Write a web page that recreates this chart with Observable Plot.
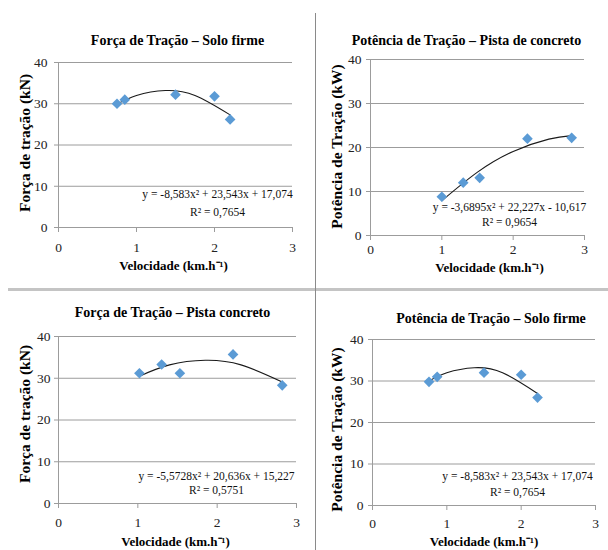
<!DOCTYPE html>
<html><head><meta charset="utf-8">
<script src="https://cdn.jsdelivr.net/npm/d3@7"></script>
<script src="https://cdn.jsdelivr.net/npm/@observablehq/plot@0.6"></script>
<style>
body{margin:0;background:#fff;}
#wrap{position:relative;width:608px;height:550px;overflow:hidden;background:#fff;}
.panel{position:absolute;}
.hdiv{position:absolute;left:8px;top:288px;width:600px;height:3px;background:#c4c4c4;}
.vdiv{position:absolute;left:315px;top:13px;width:1px;height:537px;background:#8a8a8a;}
</style></head><body><div id="wrap"></div>
<script>
const xTicks = [0, 1, 2, 3];
const yTicks = [0, 10, 20, 30, 40];

// Panel 1: Força de Tração – Solo firme
const p1Vel = [0.75, 0.85, 1.5, 2.0, 2.2];
const p1Val = [30.0, 31.0, 32.2, 31.8, 26.2];
const p1TrendX = [0.75, 1.0, 1.37, 1.75, 2.2];
const p1TrendY = [29.9, 32.0, 33.2, 32.0, 27.3];
// Panel 2: Potência de Tração – Pista de concreto
const p2Vel = [1.0, 1.3, 1.53, 2.2, 2.82];
const p2Val = [8.8, 12.0, 13.1, 22.0, 22.2];
const p2TrendX = [1.0, 1.5, 2.0, 2.5, 2.82];
const p2TrendY = [7.9, 14.4, 19.1, 21.9, 22.7];
// Panel 3: Força de Tração – Pista concreto
const p3Vel = [1.02, 1.3, 1.53, 2.2, 2.82];
const p3Val = [31.2, 33.3, 31.2, 35.7, 28.3];
const p3TrendX = [1.02, 1.4, 1.85, 2.3, 2.82];
const p3TrendY = [30.5, 33.2, 34.3, 33.2, 29.1];
// Panel 4: Potência de Tração – Solo firme
const p4Vel = [0.76, 0.87, 1.5, 2.0, 2.22];
const p4Val = [29.8, 31.0, 32.0, 31.5, 26.0];
const p4TrendX = [0.76, 1.0, 1.37, 1.75, 2.22];
const p4TrendY = [30.0, 32.0, 33.2, 32.0, 27.0];

const titles = ["Força de Tração – Solo firme", "Potência de Tração – Pista de concreto",
                "Força de Tração – Pista concreto", "Potência de Tração – Solo firme"];
const yLabels = ["Força de tração (kN)", "Potência de Tração (kW)", "Força de tração (kN)", "Potência de Tração (kW)"];
const xLabel = "Velocidade (km.h⁻¹)";
const equations = ["y = -8,583x² + 23,543x + 17,074", "y = -3,6895x² + 22,227x - 10,617",
                   "y = -5,5728x² + 20,636x + 15,227", "y = -8,583x² + 23,543x + 17,074"];
const r2 = ["R² = 0,7654", "R² = 0,9654", "R² = 0,5751", "R² = 0,7654"];

const series = [
  [p1Vel, p1Val, p1TrendX, p1TrendY],
  [p2Vel, p2Val, p2TrendX, p2TrendY],
  [p3Vel, p3Val, p3TrendX, p3TrendY],
  [p4Vel, p4Val, p4TrendX, p4TrendY]
];

const layouts = [
  {left:0, top:0, w:304, h:280, ml:58, mr:12, mt:62, mb:53, tdx:2, tdy:-27, ydx:-33, ydy:-2, xdx:-2, xdy:42, xpad:10, ypad:7, edx:-75, edy1:-30, edy2:-12},
  {left:304, top:0, w:304, h:280, ml:66, mr:24, mt:59, mb:45, tdx:-11, tdy:-24, ydx:-33, ydy:-1, xdx:12, xdy:36, xpad:4, ypad:5, edx:-75, edy1:-25, edy2:-10},
  {left:0, top:280, w:304, h:270, ml:58, mr:8, mt:56, mb:47, tdx:-5, tdy:-29, ydx:-33, ydy:-6, xdx:-2, xdy:42, xpad:9, ypad:4, edx:-80, edy1:-24, edy2:-10},
  {left:304, top:280, w:304, h:270, ml:68, mr:13, mt:59, mb:45, tdx:7, tdy:-26, ydx:-35, ydy:7, xdx:0, xdy:40, xpad:8, ypad:5, edx:-78, edy1:-26, edy2:-10}
];

const FONT = "'Liberation Serif', 'Times New Roman', serif";
const GRID = "#9c9c9c";
const wrap = document.getElementById("wrap");

layouts.forEach((L, k) => {
  const [vx, vy, tx, ty] = series[k];
  const pts = vx.map((v, i) => ({x: v, y: vy[i]}));
  const trend = tx.map((v, i) => ({x: v, y: ty[i]}));
  const chart = Plot.plot({
    width: L.w, height: L.h,
    marginLeft: L.ml, marginRight: L.mr, marginTop: L.mt, marginBottom: L.mb,
    x: {domain: [0, 3], axis: null},
    y: {domain: [0, 40], axis: null},
    style: {fontFamily: FONT, background: "white", color: "#111"},
    marks: [
      Plot.gridY(yTicks, {stroke: GRID, strokeOpacity: 1, strokeWidth: 1}),
      Plot.ruleX([0], {stroke: GRID, strokeWidth: 1}),
      Plot.axisY(yTicks, {tickSize: 4, tickPadding: L.ypad, stroke: GRID, fontSize: 13.5, fontFamily: FONT, fill: "#222", label: null, tickFormat: d => String(d)}),
      Plot.axisX(xTicks, {tickSize: 5, tickPadding: L.xpad, stroke: GRID, fontSize: 13.5, fontFamily: FONT, fill: "#222", label: null, tickFormat: d => String(d)}),
      Plot.line(trend, {x: "x", y: "y", curve: "natural", stroke: "#1a1a1a", strokeWidth: 1.1}),
      Plot.dot(pts, {x: "x", y: "y", symbol: "diamond2", r: 4.8, fill: "#5B9BD5", stroke: "none"}),
      Plot.text([titles[k]], {frameAnchor: "top", dx: L.tdx, dy: L.tdy, fontSize: 14, fontWeight: "bold", fill: "#000"}),
      Plot.text([yLabels[k]], {frameAnchor: "left", rotate: -90, dx: L.ydx, dy: L.ydy, fontSize: 15.5, fontWeight: "bold", fill: "#000", textAnchor: "middle"}),
      Plot.text([xLabel], {frameAnchor: "bottom", dx: L.xdx, dy: L.xdy, fontSize: 13, fontWeight: "bold", fill: "#000"}),
      Plot.text([equations[k]], {frameAnchor: "bottom-right", dx: L.edx, dy: L.edy1, fontSize: 11.5, fill: "#111", textAnchor: "middle"}),
      Plot.text([r2[k]], {frameAnchor: "bottom-right", dx: L.edx, dy: L.edy2, fontSize: 11.5, fill: "#111", textAnchor: "middle"})
    ]
  });
  const div = document.createElement("div");
  div.className = "panel";
  div.style.left = L.left + "px";
  div.style.top = L.top + "px";
  div.appendChild(chart);
  wrap.appendChild(div);
});

const h = document.createElement("div"); h.className = "hdiv"; wrap.appendChild(h);
const v = document.createElement("div"); v.className = "vdiv"; wrap.appendChild(v);
</script>
</body></html>
